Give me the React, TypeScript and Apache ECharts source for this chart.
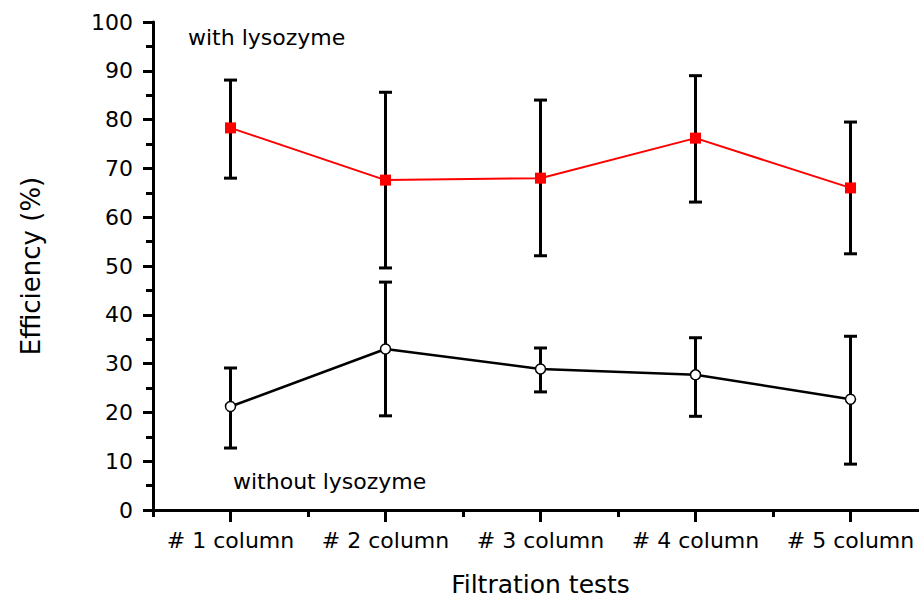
import React, { useEffect, useRef } from "react";
import * as echarts from "echarts";

const categories = ["# 1 column", "# 2 column", "# 3 column", "# 4 column", "# 5 column"];
const withLysozyme = [78.3, 67.6, 68.0, 76.2, 66.0];
const withLow = [68.0, 49.6, 52.1, 63.1, 52.5];
const withHigh = [88.1, 85.6, 84.0, 89.0, 79.5];
const withoutLysozyme = [21.2, 33.0, 28.9, 27.7, 22.7];
const withoutLow = [12.7, 19.3, 24.2, 19.2, 9.4];
const withoutHigh = [29.1, 46.7, 33.2, 35.3, 35.6];
const yTicks = [0, 10, 20, 30, 40, 50, 60, 70, 80, 90, 100];

const FONT = "DejaVu Sans";

function errorSeries(low: number[], high: number[]) {
  return {
    type: "custom",
    xAxisIndex: 0,
    yAxisIndex: 0,
    z: 2,
    encode: { x: 0, y: [1, 2] },
    data: low.map((l, i) => [i, l, high[i]]),
    renderItem: (params: any, api: any) => {
      const i = api.value(0);
      const lo = api.coord([i, api.value(1)]);
      const hi = api.coord([i, api.value(2)]);
      const hw = 6.5;
      const style = { stroke: "#000", lineWidth: 3 };
      return {
        type: "group",
        children: [
          { type: "line", shape: { x1: lo[0], y1: lo[1], x2: hi[0], y2: hi[1] }, style },
          { type: "line", shape: { x1: hi[0] - hw, y1: hi[1], x2: hi[0] + hw, y2: hi[1] }, style },
          { type: "line", shape: { x1: lo[0] - hw, y1: lo[1], x2: lo[0] + hw, y2: lo[1] }, style },
        ],
      };
    },
  };
}

export default function App() {
  const ref = useRef<HTMLDivElement>(null);
  useEffect(() => {
    if (!ref.current) return;
    const chart = echarts.init(ref.current, null, { renderer: "svg" });
    chart.setOption({
      animation: false,
      backgroundColor: "#fff",
      grid: { left: 153, top: 22, bottom: 93, right: 12, containLabel: false },
      xAxis: [
        {
          type: "category",
          data: categories,
          boundaryGap: true,
          position: "bottom",
          name: "Filtration tests",
          nameLocation: "middle",
          nameGap: 62,
          nameTextStyle: { fontFamily: FONT, fontSize: 25, color: "#000" },
          axisLine: { show: true, lineStyle: { color: "#000", width: 3 } },
          axisTick: { show: true, alignWithLabel: true, length: 12, lineStyle: { color: "#000", width: 3 } },
          axisLabel: { fontFamily: FONT, fontSize: 22, color: "#000", margin: 19, interval: 0 },
          splitLine: { show: false },
        },
        {
          type: "category",
          data: categories,
          boundaryGap: true,
          position: "bottom",
          axisLine: { show: false },
          axisTick: { show: true, alignWithLabel: false, length: 7, lineStyle: { color: "#000", width: 3 } },
          axisLabel: { show: false },
          splitLine: { show: false },
        },
      ],
      yAxis: {
        type: "value",
        min: yTicks[0],
        max: yTicks[yTicks.length - 1],
        interval: 10,
        name: "Efficiency (%)",
        nameLocation: "middle",
        nameRotate: 90,
        nameGap: 109,
        nameTextStyle: { fontFamily: FONT, fontSize: 26, color: "#000" },
        axisLine: { show: true, lineStyle: { color: "#000", width: 3 } },
        axisTick: { show: true, length: 10, lineStyle: { color: "#000", width: 3 } },
        minorTick: { show: true, splitNumber: 2, length: 7, lineStyle: { color: "#000", width: 3 } },
        axisLabel: { fontFamily: FONT, fontSize: 22, color: "#000", margin: 20 },
        splitLine: { show: false },
        minorSplitLine: { show: false },
      },
      series: [
        errorSeries(withLow, withHigh),
        errorSeries(withoutLow, withoutHigh),
        {
          type: "line",
          name: "with lysozyme",
          data: withLysozyme,
          z: 3,
          symbol: "rect",
          symbolSize: 11,
          lineStyle: { color: "#ff0000", width: 2 },
          itemStyle: { color: "#ff0000" },
        },
        {
          type: "line",
          name: "without lysozyme",
          data: withoutLysozyme,
          z: 3,
          symbol: "circle",
          symbolSize: 10,
          lineStyle: { color: "#000", width: 2.5 },
          itemStyle: { color: "#fff", borderColor: "#000", borderWidth: 1.5 },
        },
      ],
      graphic: [
        {
          type: "text",
          left: 188,
          top: 26,
          style: { text: "with lysozyme", fontFamily: FONT, fontSize: 22, fill: "#000" },
        },
        {
          type: "text",
          left: 233,
          top: 470,
          style: { text: "without lysozyme", fontFamily: FONT, fontSize: 22, fill: "#000" },
        },
      ],
    });
    return () => chart.dispose();
  }, []);
  return (
    <div
      ref={ref}
      style={{ position: "fixed", left: 0, top: 0, width: 940, height: 603, background: "#fff" }}
    />
  );
}
